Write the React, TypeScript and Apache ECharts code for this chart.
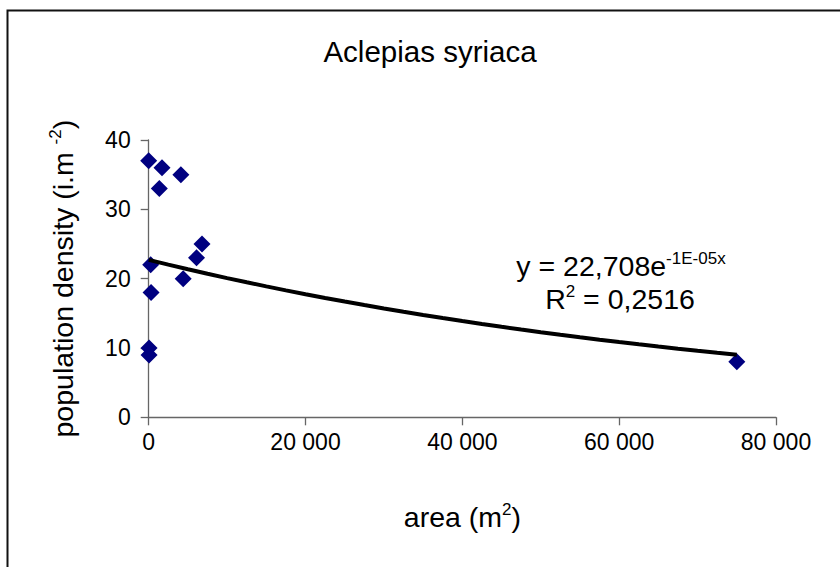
import React, { useEffect, useRef } from "react";
import * as echarts from "echarts";

const titleText = "Aclepias syriaca";
const areas = [0, 1700, 4100, 1350, 6800, 6100, 250, 4400, 300, 50, 50, 75000];
const densities = [37, 36, 35, 33, 25, 23, 22, 20, 18, 10, 9, 8];
const xTicks = [0, 20000, 40000, 60000, 80000];
const yTicks = [0, 10, 20, 30, 40];
const trendA = 22.708;
const trendB = -1.23e-5;
const trendStep = 2500;

const FONT = "Liberation Sans, Arial, sans-serif";

function fmtThousands(v: number): string {
  return String(v).replace(/\B(?=(\d{3})+(?!\d))/g, " ");
}

export default function App() {
  const ref = useRef<HTMLDivElement>(null);
  useEffect(() => {
    if (!ref.current) return;
    const chart = echarts.init(ref.current, null, { renderer: "svg" });
    const points = areas.map((a, i) => [a, densities[i]]);
    const maxArea = Math.max(...areas);
    const trend: number[][] = [];
    for (let x = 0; x <= maxArea; x += trendStep) {
      trend.push([x, trendA * Math.exp(trendB * x)]);
    }
    const nameRich = {
      a: { fontFamily: FONT, fontSize: 28.5, color: "#000", lineHeight: 32 },
      s: { fontFamily: FONT, fontSize: 17, color: "#000", verticalAlign: "top", lineHeight: 17 },
    };
    const eqRich = {
      a: { fontFamily: FONT, fontSize: 28.5, fill: "#000", lineHeight: 32 },
      s: { fontFamily: FONT, fontSize: 17, fill: "#000", verticalAlign: "top", lineHeight: 17 },
    };
    chart.setOption({
      animation: false,
      backgroundColor: "#ffffff",
      grid: { left: 148.7, right: 64, top: 140, bottom: 149.7 },
      xAxis: {
        type: "value",
        min: xTicks[0],
        max: xTicks[xTicks.length - 1],
        interval: xTicks[1] - xTicks[0],
        name: "{a|area (m}{s|2}{a|)}",
        nameLocation: "middle",
        nameGap: 84,
        nameTextStyle: { rich: nameRich },
        axisLine: { show: true, lineStyle: { color: "#666", width: 1.3 } },
        axisTick: { show: true, inside: false, length: 8, lineStyle: { color: "#666", width: 1.3 } },
        axisLabel: {
          margin: 13,
          fontFamily: FONT,
          fontSize: 23,
          color: "#000",
          formatter: (v: number) => fmtThousands(v),
        },
        splitLine: { show: false },
      },
      yAxis: {
        type: "value",
        min: yTicks[0],
        max: yTicks[yTicks.length - 1],
        interval: yTicks[1] - yTicks[0],
        name: "{a|population density (i.m }{s|-2}{a|)}",
        nameLocation: "middle",
        nameRotate: 90,
        nameGap: 70,
        nameTextStyle: { rich: nameRich },
        axisLine: { show: true, lineStyle: { color: "#666", width: 1.3 } },
        axisTick: { show: true, inside: false, length: 8, lineStyle: { color: "#666", width: 1.3 } },
        axisLabel: { margin: 18, fontFamily: FONT, fontSize: 23, color: "#000" },
        splitLine: { show: false },
      },
      series: [
        {
          type: "scatter",
          data: points,
          symbol: "diamond",
          symbolSize: [17, 17],
          itemStyle: { color: "#000080", opacity: 1 },
          z: 2,
        },
        {
          type: "line",
          data: trend,
          showSymbol: false,
          symbol: "none",
          lineStyle: { color: "#000", width: 4 },
          z: 3,
        },
      ],
      graphic: [
        {
          type: "rect",
          shape: { x: 7.5, y: 10.5, width: 900, height: 600 },
          style: { fill: "none", stroke: "#111", lineWidth: 2 },
          silent: true,
        },
        {
          type: "text",
          x: 430,
          y: 51,
          style: {
            text: titleText,
            fontFamily: FONT,
            fontSize: 29.5,
            fill: "#000",
            textAlign: "center",
            textVerticalAlign: "middle",
          },
        },
        {
          type: "text",
          x: 621,
          y: 266,
          style: {
            text: "{a|y = 22,708e}{s|-1E-05x}",
            textAlign: "center",
            textVerticalAlign: "middle",
            rich: eqRich,
          },
        },
        {
          type: "text",
          x: 620,
          y: 299,
          style: {
            text: "{a|R}{s|2}{a| = 0,2516}",
            textAlign: "center",
            textVerticalAlign: "middle",
            rich: eqRich,
          },
        },
      ],
    });
    return () => chart.dispose();
  }, []);
  return (
    <div
      ref={ref}
      style={{ position: "fixed", left: 0, top: 0, width: 840, height: 567, background: "#fff" }}
    />
  );
}
